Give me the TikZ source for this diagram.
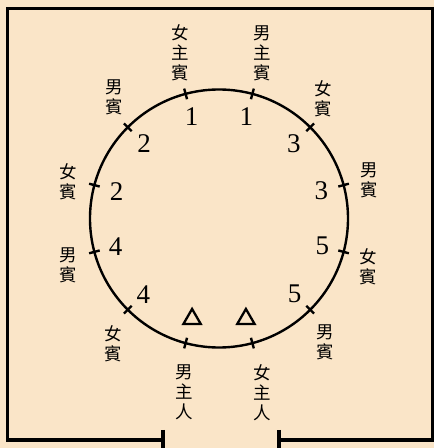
\documentclass[tikz,border=0pt]{standalone}
\usepackage{fontspec}
\setmainfont{Liberation Serif}
\newfontfamily\cjk{Noto Sans CJK TC}
\usetikzlibrary{shapes.geometric}
\definecolor{bgcol}{RGB}{250,229,200}
\tikzset{
  frameline/.style={line width=3.2pt},
  ringline/.style={line width=2.4pt},
  tickline/.style={line width=2.4pt},
  seatlabel/.style={font=\cjk\fontsize{17.5}{20}\selectfont, align=center, inner sep=0pt},
  seatnum/.style={font=\fontsize{27}{27}\selectfont, inner sep=0pt},
  hosttri/.style={regular polygon, regular polygon sides=3, draw, line width=2.3pt, minimum size=20pt, inner sep=0pt}
}
\begin{document}
\begin{tikzpicture}[x=1pt,y=1pt]
\useasboundingbox (0,0) rectangle (434,448);
\fill[bgcol] (0,0) rectangle (434,448);
% frame with door gap
\coordinate (dl) at (163,8);
\coordinate (dr) at (279,8);
\draw[frameline] (dl) -- (7.5,8) -- (7.5,439.5) -- (433,439.5) -- (433,8) -- (dr);
\draw[frameline] (163,18) -- (163,-2);
\draw[frameline] (279,18) -- (279,-2);
% table
\coordinate (c) at (219,229.5);
\draw[ringline] (c) circle (129);
\foreach \a in {15,45,...,345} {
  \draw[tickline, shift={(c)}] (\a:123.5) -- (\a:134.5);
}
% seat numbers
\begin{scope}[shift={(c)}]
\node[seatnum] (n1l) at (105:106) {1};
\node[seatnum] (n1r) at (75:106) {1};
\node[seatnum] (n2a) at (135:106) {2};
\node[seatnum] (n3a) at (45:106) {3};
\node[seatnum] (n2b) at (165:106) {2};
\node[seatnum] (n3b) at (15:106) {3};
\node[seatnum] (n4a) at (195:107) {4};
\node[seatnum] (n5a) at (345:107) {5};
\node[seatnum] (n4b) at (225:107) {4};
\node[seatnum] (n5b) at (315:107) {5};
\node[hosttri] (t1) at (255:104) {};
\node[hosttri] (t2) at (285:104) {};
\end{scope}
% seat labels
\node[seatlabel] (l1) at (180,395) {女\\主\\賓};
\node[seatlabel] (l2) at (262,395) {男\\主\\賓};
\node[seatlabel] (l3) at (114,351) {男\\賓};
\node[seatlabel] (l4) at (323,349) {女\\賓};
\node[seatlabel] (l5) at (68,266) {女\\賓};
\node[seatlabel] (l6) at (369,268) {男\\賓};
\node[seatlabel] (l7) at (68,183) {男\\賓};
\node[seatlabel] (l8) at (368,181) {女\\賓};
\node[seatlabel] (l9) at (113,104) {女\\賓};
\node[seatlabel] (l10) at (325,106) {男\\賓};
\node[seatlabel] (l11) at (184,56) {男\\主\\人};
\node[seatlabel] (l12) at (262,55) {女\\主\\人};
\end{tikzpicture}
\end{document}
